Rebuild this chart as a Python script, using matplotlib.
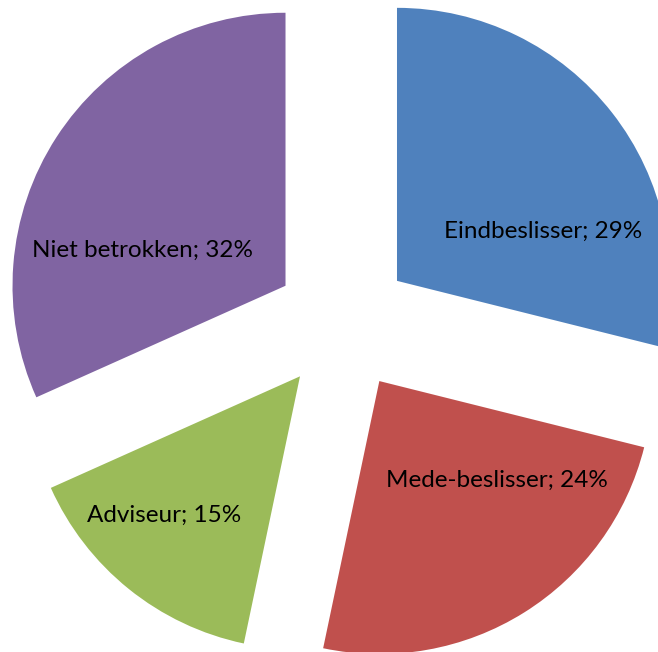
import matplotlib
matplotlib.use("Agg")
import matplotlib.pyplot as plt

# Data (shares; labels show them rounded)
categories = ["Eindbeslisser", "Mede-beslisser", "Adviseur", "Niet betrokken"]
shares = [28.9, 24.4, 15.0, 31.7]
colours = ["#4F81BD", "#C0504D", "#9BBB59", "#8064A2"]

# Layout (pixel space of the 658x652 canvas, y measured upwards)
W, H = 658, 652
CENTER = (343, H - 323)
RADIUS = 273
EXPLODE_PX = 68.5          # pie() takes explode in data units
# label anchor points (centre x, baseline y) per slice, image coordinates
label_pos = [(543, 238), (497, 487), (164, 522), (142, 257)]

plt.rcParams["font.family"] = ["Lato", "DejaVu Sans"]

fig = plt.figure(figsize=(W / 100, H / 100), dpi=100)
ax = fig.add_axes([0, 0, 1, 1])

ax.pie(shares, colors=colours, startangle=90, counterclock=False,
       center=CENTER, radius=RADIUS, explode=[EXPLODE_PX] * len(shares),
       wedgeprops={"linewidth": 0}, frame=True)
ax.set_xlim(0, W)
ax.set_ylim(0, H)
ax.set_aspect("equal")
ax.axis("off")

for name, val, (x, y) in zip(categories, shares, label_pos):
    ax.text(x, H - y, f"{name}; {val:.0f}%", ha="center", va="baseline",
            fontsize=17.5, color="black")

fig.savefig("out.png", dpi=100)
